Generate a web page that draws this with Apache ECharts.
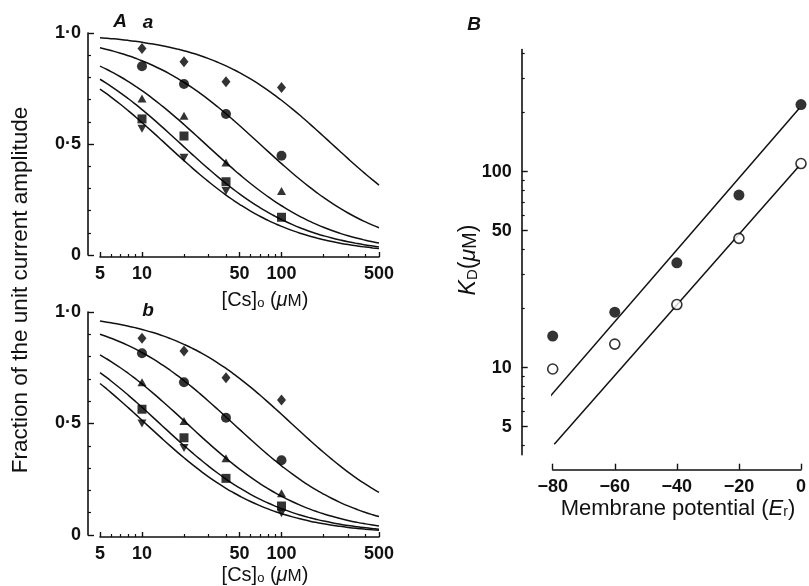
<!DOCTYPE html>
<html><head><meta charset="utf-8">
<script src="https://cdn.jsdelivr.net/npm/echarts@6/dist/echarts.min.js"></script>
<style>html,body{margin:0;padding:0;background:#fff}#c{width:809px;height:586px}</style>
</head><body><div id="c"></div><script>
// ---------- data ----------
const concA = [10, 20, 40, 100];               // [Cs]o, µM
// panel A a
const aDiamond  = [0.93, 0.87, 0.78, 0.755];
const aCircle   = [0.85, 0.77, 0.635, 0.447];
const aTriangle = [0.705, 0.627, 0.417, 0.288];
const aSquare   = [0.613, 0.536, 0.33, 0.17];
const aDown     = [0.569, 0.438, 0.288, null];
const aKd       = [230, 70, 28.5, 19, 14.8];   // fitted KD of the curves
// panel A b
const bDiamond  = [0.882, 0.825, 0.705, 0.605];
const bCircle   = [0.815, 0.685, 0.526, 0.335];
const bTriangle = [0.685, 0.511, 0.344, 0.187];
const bSquare   = [0.564, 0.436, 0.254, 0.13];
const bDown     = [0.50, 0.39, null, 0.097];
const bKd       = [118, 45, 21, 13.4, 10.6];
// concentrations at which the fitted curves are sampled
const fitConc = [5,5.5,6,7,8,9,10,12,14,16,18,20,23,26,30,35,40,45,50,60,70,80,90,100,120,140,160,180,200,230,260,300,350,400,450,500];
// panel B
const potentials = [-80, -60, -40, -20, 0];
const kdFilled = [14.5, 19.2, 34.3, 76, 220];
const kdOpen   = [9.85, 13.2, 21, 45.7, 110];
const fitFilledV = [-81.1, -0.6], fitFilledK = [7.06, 210];
const fitOpenV   = [-79.5, -0.6], fitOpenK   = [4.07, 107];
// tick values
const xTicksA = [5, 10, 50, 100, 500];
const xMinorA = [6,7,8,9,20,30,40,60,70,80,90,200,300,400];
const yTicksB = [5, 10, 50, 100];
const yMinorB = [4,6,7,8,9,20,30,40,60,70,80,90,200,300,400];

// ---------- styles ----------
const FONT = "'Liberation Sans', Arial, sans-serif";
const BLACK = '#111';
const lab = {color: BLACK, fontFamily: FONT, fontSize: 18, fontWeight: 'bold'};
const axLine = {show: true, onZero:false, lineStyle: {color: BLACK, width: 1.6}};
const noLine = {show: false, onZero:false};

function pts(xs, ys) { const r=[]; xs.forEach((x,i)=>{ if (ys[i]!=null) r.push([x, ys[i]]); }); return r; }
function fit(kd) { return fitConc.map(c => [c, kd/(kd+c)]); }
function fmtA(v){ return v===0?'0':(v===0.5?'0·5':(v===1?'1·0':'')); }

const gA  = {left:100, top:33, width:279, height:222};
const gAb = {left:100, top:312, width:279, height:223};
const gB  = {left:552.7, top:49.5, width:252.3, height:405.2};

function xLogMain(g){ return {gridIndex:g, type:'log', logBase:10, min:5, max:500, offset:2, position:'bottom',
  axisLine: axLine, splitLine:{show:false},
  axisTick:{show:true, inside:true, length:5, lineStyle:{color:BLACK,width:1.4}, customValues:xTicksA},
  axisLabel:{show:true, customValues:xTicksA, margin:8, ...lab, formatter: v=>String(v)}}; }
function xLogMinor(g){ return {gridIndex:g, type:'log', logBase:10, min:5, max:500, offset:2, position:'bottom',
  axisLine:noLine, splitLine:{show:false}, axisLabel:{show:false},
  axisTick:{show:true, inside:true, length:3, lineStyle:{color:BLACK,width:1.2}, customValues:xMinorA}}; }
function yLin(g){ return {gridIndex:g, type:'value', min:0, max:1, interval:0.5, offset:12, position:'left',
  axisLine: axLine, splitLine:{show:false},
  axisTick:{show:true, inside:true, length:6, lineStyle:{color:BLACK,width:1.4}},
  minorTick:{show:true, splitNumber:5, length:3, lineStyle:{color:BLACK,width:1.2}},
  axisLabel:{margin:7, ...lab, formatter: fmtA}}; }
function hidden(g, type, min, max){ return {gridIndex:g, type:type, min:min, max:max, show:false, axisLine:noLine}; }

const symDefs = [
  {s:'diamond', size:[9,11], rot:0},
  {s:'circle', size:10, rot:0},
  {s:'triangle', size:[9,8], rot:0},
  {s:'rect', size:9, rot:0},
  {s:'triangle', size:[9,8], rot:180}
];
const series = [];
[[aKd,0],[bKd,1]].forEach(([kds,g])=>{
  kds.forEach(kd=>series.push({type:'line', xAxisIndex:g, yAxisIndex:g, data:fit(kd), smooth:true,
    showSymbol:false, lineStyle:{color:BLACK,width:1.5}, silent:true, z:2}));
});
[[ [aDiamond,aCircle,aTriangle,aSquare,aDown],0 ], [ [bDiamond,bCircle,bTriangle,bSquare,bDown],1 ]].forEach(([arrs,g])=>{
  arrs.forEach((arr,k)=>series.push({type:'scatter', xAxisIndex:g, yAxisIndex:g, data:pts(concA,arr),
    symbol:symDefs[k].s, symbolSize:symDefs[k].size, symbolRotate:symDefs[k].rot,
    itemStyle:{color:'#000'}, z:3}));
});
// panel B
series.push({type:'line', xAxisIndex:2, yAxisIndex:2, data:pts(fitFilledV,fitFilledK), showSymbol:false, lineStyle:{color:BLACK,width:1.5}, z:2});
series.push({type:'line', xAxisIndex:2, yAxisIndex:2, data:pts(fitOpenV,fitOpenK), showSymbol:false, lineStyle:{color:BLACK,width:1.5}, z:2});
series.push({type:'scatter', xAxisIndex:2, yAxisIndex:2, data:pts(potentials,kdFilled), symbol:'circle', symbolSize:11, itemStyle:{color:'#000'}, z:3});
series.push({type:'scatter', xAxisIndex:2, yAxisIndex:2, data:pts(potentials,kdOpen), symbol:'circle', symbolSize:10, itemStyle:{color:'#fff', borderColor:'#000', borderWidth:1.6}, z:3});

function mkRich(fs){
  const main = {fontFamily:FONT, fontSize:fs, color:BLACK, lineHeight:Math.round(fs*1.3), verticalAlign:'bottom'};
  return {
    n: main,
    it: Object.assign({}, main, {fontStyle:'italic'}),
    sub: {fontFamily:FONT, fontSize:Math.round(fs*0.65), color:BLACK, lineHeight:Math.round(fs*0.65), verticalAlign:'bottom'},
    sm: Object.assign({}, main, {fontSize:Math.round(fs*0.85)})
  };
}
function txt(x,y,text,fs,rot){ return {type:'text', x:x, y:y, rotation:rot||0, style:{text:text, rich:mkRich(fs), align:'center', verticalAlign:'middle', fill:BLACK}}; }
function letter(x,y,t){ return {type:'text', x:x, y:y, style:{text:t, fontFamily:FONT, fontSize:19, fontStyle:'italic', fontWeight:'bold', fill:BLACK, align:'center', verticalAlign:'middle'}}; }

const option = {
  animation:false,
  backgroundColor:'#fff',
  grid:[ gA, gAb, gB, Object.assign({}, gA), Object.assign({}, gAb), Object.assign({}, gB) ],
  xAxis:[ xLogMain(0), xLogMain(1),
    {gridIndex:2, type:'value', min:-80, max:0, interval:20, offset:15, position:'bottom', axisLine:axLine, splitLine:{show:false},
     axisTick:{show:true, inside:true, length:6, lineStyle:{color:BLACK,width:1.4}},
     axisLabel:{margin:8, ...lab, formatter: v=> v<0 ? '\u2212'+Math.abs(v) : String(v)}},
    xLogMinor(3), xLogMinor(4), hidden(5,'value',-80,0)
  ],
  yAxis:[ yLin(0), yLin(1),
    {gridIndex:2, type:'log', logBase:10, min:3.6, max:420, offset:31, position:'left', axisLine:axLine, splitLine:{show:false},
     axisTick:{show:true, inside:true, length:6, lineStyle:{color:BLACK,width:1.4}, customValues:yTicksB},
     axisLabel:{customValues:yTicksB, margin:10, ...lab, formatter: v=>String(v)}},
    hidden(3,'value',0,1), hidden(4,'value',0,1),
    {gridIndex:5, type:'log', logBase:10, min:3.6, max:420, offset:31, position:'left', axisLine:noLine, splitLine:{show:false}, axisLabel:{show:false},
     axisTick:{show:true, inside:true, length:3, lineStyle:{color:BLACK,width:1.2}, customValues:yMinorB}}
  ],
  series: series,
  graphic:[
    txt(18, 290, '{n|Fraction of the unit current amplitude}', 22.5, Math.PI/2),
    txt(265, 297, '{n|[Cs]}{sub|o}{n| (}{it|μ}{sm|M}{n|)}', 20),
    txt(265, 572, '{n|[Cs]}{sub|o}{n| (}{it|μ}{sm|M}{n|)}', 20),
    txt(678, 505, '{n|Membrane potential (}{it|E}{sub|r}{n|)}', 22),
    txt(465, 260, '{it|K}{sub|D}{n|(}{it|μ}{sm|M}{n|)}', 23, Math.PI/2),
    letter(120, 22, 'A'), letter(148, 23, 'a'), letter(474, 25, 'B'), letter(148, 311, 'b')
  ]
};
echarts.init(document.getElementById('c'), null, {renderer:'canvas'}).setOption(option);
</script></body></html>
